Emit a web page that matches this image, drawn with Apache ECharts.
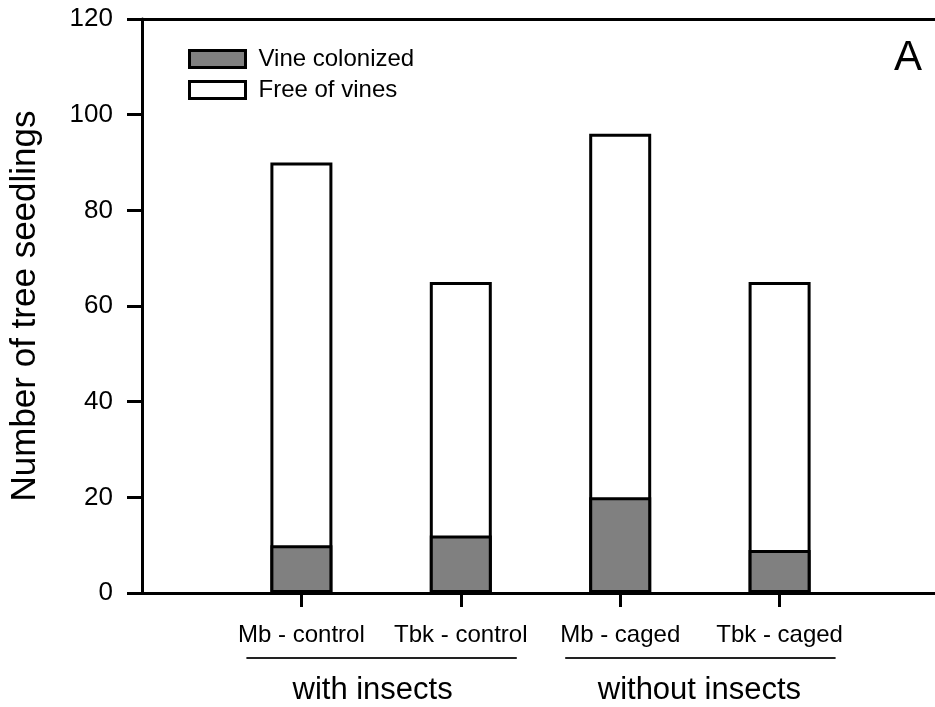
<!DOCTYPE html>
<html>
<head>
<meta charset="utf-8">
<script src="https://cdn.jsdelivr.net/npm/echarts@6/dist/echarts.min.js"></script>
<style>
  html, body { margin: 0; padding: 0; background: #fff; }
  #chart { width: 935px; height: 707px; }
</style>
</head>
<body>
<div id="chart"></div>
<script>
// Treatments along the x axis, and how they group
const treatments = ['Mb - control', 'Tbk - control', 'Mb - caged', 'Tbk - caged'];
const groups = [
  { label: 'with insects', members: ['Mb - control', 'Tbk - control'] },
  { label: 'without insects', members: ['Mb - caged', 'Tbk - caged'] }
];

// Seedling counts per treatment
const vineColonized = [10, 12, 20, 9];
const freeOfVines = [80, 53, 76, 56];

// Value-axis ticks
const yTicks = [0, 20, 40, 60, 80, 100, 120];

const FONT = "'Liberation Sans', Arial, Helvetica, sans-serif";

// Pad with empty slots at both ends so the treatments sit on the interior ticks
const xCats = [''].concat(treatments, ['']);
const pad = arr => [null].concat(arr, [null]);

// Whole-bar heights (colonized + free); the colonized part is drawn over the base,
// so the boundary between the two parts is a single outline
const totals = vineColonized.map((v, i) => v + freeOfVines[i]);

const chart = echarts.init(document.getElementById('chart'), null, { renderer: 'canvas' });

const barStyle = (fill) => ({ color: fill, borderColor: '#000', borderWidth: 3 });

chart.setOption({
  animation: false,
  backgroundColor: '#fff',
  textStyle: { fontFamily: FONT, color: '#000' },
  // the plot frame runs past the right edge of the canvas
  grid: { left: 142, top: 19, width: 797, height: 574, outerBoundsMode: 'none' },
  legend: {
    orient: 'vertical',
    left: 188,
    top: 47,
    padding: 0,
    itemWidth: 56,
    itemHeight: 17,
    itemGap: 7,
    icon: 'rect',
    data: ['Vine colonized', 'Free of vines'],
    textStyle: { fontFamily: FONT, fontSize: 24, color: '#000', padding: [0, 0, 0, 8] },
    itemStyle: { borderColor: '#000', borderWidth: 3 }
  },
  xAxis: [
    {
      type: 'category',
      data: xCats,
      boundaryGap: false,
      position: 'bottom',
      axisLine: { lineStyle: { color: '#000', width: 3 } },
      axisTick: {
        length: 14,
        interval: (i, v) => v !== '',
        lineStyle: { color: '#000', width: 3 }
      },
      axisLabel: {
        interval: (i, v) => v !== '',
        fontFamily: FONT, fontSize: 24, color: '#000', margin: 30
      },
      splitLine: { show: false }
    },
    {
      type: 'category',
      data: xCats,
      boundaryGap: false,
      position: 'top',
      axisLine: { lineStyle: { color: '#000', width: 3 } },
      axisTick: { show: false },
      axisLabel: { show: false },
      splitLine: { show: false }
    }
  ],
  yAxis: {
    type: 'value',
    min: yTicks[0],
    max: yTicks[yTicks.length - 1],
    interval: yTicks[1] - yTicks[0],
    name: 'Number of tree seedlings',
    nameLocation: 'middle',
    nameRotate: 90,
    nameGap: 99,
    nameTextStyle: { fontFamily: FONT, fontSize: 35, color: '#000' },
    axisLine: { show: true, lineStyle: { color: '#000', width: 3 } },
    axisTick: { show: true, length: 15, lineStyle: { color: '#000', width: 3 } },
    axisLabel: { fontFamily: FONT, fontSize: 26, color: '#000', margin: 29 },
    splitLine: { show: false }
  },
  series: [
    {
      name: 'Free of vines',
      type: 'bar',
      barWidth: 62,
      barGap: '-100%',
      data: pad(totals),
      itemStyle: barStyle('#ffffff')
    },
    {
      name: 'Vine colonized',
      type: 'bar',
      barWidth: 62,
      barGap: '-100%',
      data: pad(vineColonized),
      itemStyle: barStyle('#808080')
    }
  ]
});

// Group brackets under the treatment labels, placed from the axis scale
const graphics = [];
const labelNudge = [-9, -1];
groups.forEach((g, gi) => {
  const xs = g.members.map(m => chart.convertToPixel({ xAxisIndex: 0 }, m));
  const x0 = Math.min(...xs) - 55;
  const x1 = Math.max(...xs) + 56;
  const mid = (x0 + x1) / 2;
  graphics.push({
    type: 'line',
    shape: { x1: x0, y1: 658, x2: x1, y2: 658 },
    style: { stroke: '#222', lineWidth: 2 }
  });
  graphics.push({
    type: 'text',
    x: mid + labelNudge[gi],
    y: 690,
    style: {
      text: g.label,
      font: '31px ' + FONT,
      fill: '#000',
      align: 'center',
      verticalAlign: 'middle'
    }
  });
});
// Panel letter
graphics.push({
  type: 'text',
  x: 908,
  y: 58,
  style: { text: 'A', font: '42px ' + FONT, fill: '#000', align: 'center', verticalAlign: 'middle' }
});

chart.setOption({ graphic: graphics });
</script>
</body>
</html>
